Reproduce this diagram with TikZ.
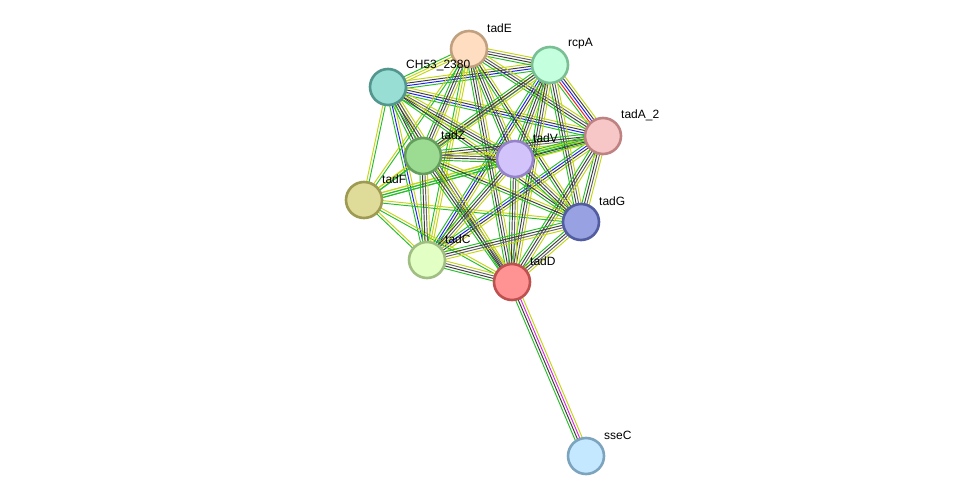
\documentclass[tikz,border=0pt]{standalone}
\usepackage{fontspec}
\setmainfont{Liberation Sans}
\usetikzlibrary{calc,backgrounds}
\definecolor{sgreen}{RGB}{40,190,40}
\definecolor{syellow}{RGB}{196,214,20}
\definecolor{sblack}{RGB}{60,60,60}
\definecolor{sdark}{RGB}{100,100,100}
\definecolor{sblue}{RGB}{30,30,240}
\definecolor{sred}{RGB}{240,30,30}
\definecolor{smag}{RGB}{220,40,220}
\definecolor{fE}{RGB}{254,221,192}\definecolor{dE}{RGB}{192,160,126}
\definecolor{fR}{RGB}{196,255,222}\definecolor{dR}{RGB}{122,190,148}
\definecolor{fH}{RGB}{152,222,212}\definecolor{dH}{RGB}{82,150,142}
\definecolor{fA}{RGB}{247,198,198}\definecolor{dA}{RGB}{190,130,130}
\definecolor{fZ}{RGB}{156,220,146}\definecolor{dZ}{RGB}{100,158,92}
\definecolor{fV}{RGB}{210,196,250}\definecolor{dV}{RGB}{150,130,200}
\definecolor{fF}{RGB}{222,220,152}\definecolor{dF}{RGB}{158,154,82}
\definecolor{fG}{RGB}{152,162,226}\definecolor{dG}{RGB}{82,92,160}
\definecolor{fC}{RGB}{226,255,196}\definecolor{dC}{RGB}{160,190,130}
\definecolor{fD}{RGB}{255,146,146}\definecolor{dD}{RGB}{190,80,80}
\definecolor{fS}{RGB}{196,232,255}\definecolor{dS}{RGB}{124,164,190}
\tikzset{
  gene/.style={circle,minimum size=36pt,inner sep=0pt,line width=2.6pt,fill=f#1,draw=d#1},
  lab/.style={anchor=west,inner sep=0pt,font=\fontsize{12}{14}\selectfont,text=black},
  eline/.style={line width=0.95pt}
}
\newcommand\bundle[4]{%
  \foreach \cc [count=\ii] in {#4} {%
    \pgfmathsetmacro\off{(\ii-(#3+1)/2)*2.5}%
    \draw[eline,\cc] ($(#1)!\off pt!90:(#2)$) -- ($(#2)!\off pt!-90:(#1)$);
  }%
}
\begin{document}
\begin{tikzpicture}[x=1pt,y=-1pt]
\useasboundingbox (0,0) rectangle (976,502);
% nodes
\node[gene=E] (E) at (469,49) {};
\node[gene=R] (R) at (550,65) {};
\node[gene=H] (H) at (388,87) {};
\node[gene=A] (A) at (603,136) {};
\node[gene=Z] (Z) at (423,156) {};
\node[gene=V] (V) at (515,159) {};
\node[gene=F] (F) at (364,200) {};
\node[gene=G] (G) at (581,222) {};
\node[gene=C] (C) at (427,260) {};
\node[gene=D] (D) at (512,282) {};
\node[gene=S] (S) at (586,456) {};
% labels
\node[lab] (lE) at ($(E)+(18,-21)$) {tadE};
\node[lab] (lR) at ($(R)+(18,-21)$) {rcpA};
\node[lab] (lH) at ($(H)+(18,-21)$) {CH53\_2380};
\node[lab] (lA) at ($(A)+(18,-21)$) {tadA\_2};
\node[lab] (lZ) at ($(Z)+(18,-21)$) {tadZ};
\node[lab] (lV) at ($(V)+(18,-21)$) {tadV};
\node[lab] (lF) at ($(F)+(18,-21)$) {tadF};
\node[lab] (lG) at ($(G)+(18,-21)$) {tadG};
\node[lab] (lC) at ($(C)+(18,-21)$) {tadC};
\node[lab] (lD) at ($(D)+(18,-21)$) {tadD};
\node[lab] (lS) at ($(S)+(18,-21)$) {sseC};
% edges
\begin{scope}[on background layer]
\fill[white] (0,0) rectangle (976,502);
% blue clique H,R,A,C
\bundle{H}{R}{4}{sgreen,sblue,sblack,syellow}
\bundle{H}{A}{4}{sgreen,sblue,sblack,syellow}
\bundle{H}{C}{3}{sgreen,sblue,syellow}
\bundle{R}{A}{5}{sgreen,sred,sblue,sblack,syellow}
\bundle{R}{C}{4}{sgreen,sblue,sblack,syellow}
\bundle{A}{C}{4}{sgreen,sblue,sblack,syellow}
% tadF edges
\bundle{F}{H}{2}{sgreen,syellow}
\bundle{F}{E}{2}{sgreen,syellow}
\bundle{F}{R}{2}{sgreen,syellow}
\bundle{F}{A}{3}{sgreen,sgreen,syellow}
\bundle{F}{Z}{2}{sgreen,syellow}
\bundle{F}{V}{3}{sgreen,sgreen,syellow}
\bundle{F}{G}{2}{sgreen,syellow}
\bundle{F}{C}{2}{sgreen,syellow}
\bundle{F}{D}{2}{sgreen,syellow}
% others
\bundle{E}{R}{4}{sgreen,sblack,sdark,syellow}
\bundle{E}{H}{3}{sgreen,syellow,syellow}
\bundle{E}{A}{4}{sgreen,sblack,sdark,syellow}
\bundle{E}{Z}{4}{sgreen,sblack,sdark,syellow}
\bundle{E}{V}{4}{sgreen,sblack,sdark,syellow}
\bundle{E}{G}{3}{sgreen,sblack,syellow}
\bundle{E}{C}{3}{sgreen,syellow,syellow}
\bundle{E}{D}{4}{sgreen,sblack,sdark,syellow}
\bundle{R}{Z}{4}{sgreen,sblack,sdark,syellow}
\bundle{R}{V}{4}{sgreen,sblack,sdark,syellow}
\bundle{R}{G}{4}{sgreen,sblack,sdark,syellow}
\bundle{R}{D}{4}{sgreen,sblack,sdark,syellow}
\bundle{H}{Z}{4}{sgreen,sblack,sdark,syellow}
\bundle{H}{V}{4}{sgreen,sblack,sdark,syellow}
\bundle{H}{G}{3}{sgreen,sblack,syellow}
\bundle{H}{D}{4}{sgreen,sblack,sdark,syellow}
\bundle{A}{Z}{4}{sgreen,sblack,sdark,syellow}
\bundle{A}{V}{4}{sgreen,sgreen,sblack,syellow}
\bundle{A}{G}{4}{sgreen,sblack,sdark,syellow}
\bundle{A}{D}{4}{sgreen,sblack,sdark,syellow}
\bundle{Z}{V}{4}{sgreen,sblack,sdark,syellow}
\bundle{Z}{G}{3}{sgreen,sblack,syellow}
\bundle{Z}{C}{4}{sgreen,sblack,sdark,syellow}
\bundle{Z}{D}{4}{sgreen,sblack,sdark,syellow}
\bundle{V}{G}{4}{sgreen,sblack,sdark,syellow}
\bundle{V}{C}{4}{sgreen,sblack,sdark,syellow}
\bundle{V}{D}{4}{sgreen,sblack,sdark,syellow}
\bundle{G}{C}{4}{sgreen,sblack,sdark,syellow}
\bundle{G}{D}{4}{sgreen,sblack,sdark,syellow}
\bundle{C}{D}{4}{sgreen,sblack,sdark,syellow}
\bundle{D}{S}{4}{sgreen,sblack,smag,syellow}
\end{scope}
\end{tikzpicture}
\end{document}
